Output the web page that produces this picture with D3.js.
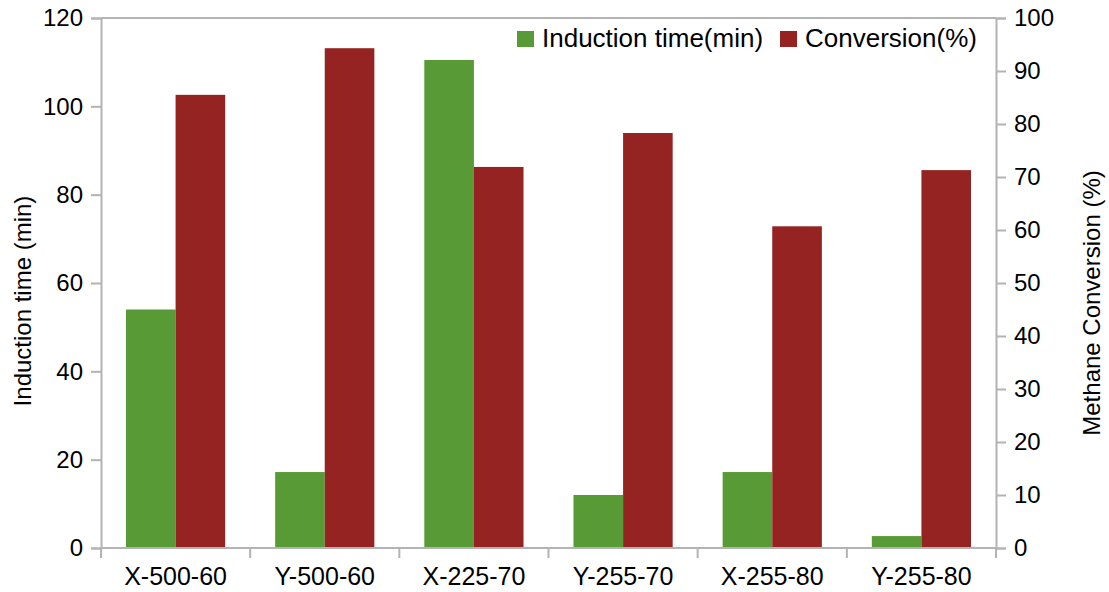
<!DOCTYPE html>
<html>
<head>
<meta charset="utf-8">
<script src="https://cdn.jsdelivr.net/npm/d3@7"></script>
<style>
  body { margin: 0; background: #fff; }
  text { font-family: "Liberation Sans", Arial, sans-serif; fill: #000; }
</style>
</head>
<body>
<svg id="chart"></svg>
<script>
// chart data
var categories = ["X-500-60", "Y-500-60", "X-225-70", "Y-255-70", "X-255-80", "Y-255-80"];
var inductionTime = [54, 17.2, 110.5, 12, 17.2, 2.7];
var conversion = [85.5, 94.3, 71.9, 78.3, 60.7, 71.3];
var leftTicks = [0, 20, 40, 60, 80, 100, 120];
var rightTicks = [0, 10, 20, 30, 40, 50, 60, 70, 80, 90, 100];
var seriesNames = ["Induction time(min)", "Conversion(%)"];

var svgWidth = 1109, svgHeight = 592;
var margin = {top: 18, right: 113, bottom: 44, left: 101};
var green = "#589a35", red = "#952322", axisGrey = "#b3b3b3";

var svg = d3.select("#chart")
  .attr("width", svgWidth)
  .attr("height", svgHeight);

var x0 = d3.scaleBand()
  .domain(categories)
  .range([margin.left, svgWidth - margin.right])
  .paddingInner(0.335)
  .paddingOuter(0.1675);

var yLeft = d3.scaleLinear()
  .domain([0, 120])
  .range([svgHeight - margin.bottom, margin.top]);

var yRight = d3.scaleLinear()
  .domain([0, 100])
  .range([svgHeight - margin.bottom, margin.top]);

var bottom = svgHeight - margin.bottom;
var barW = x0.bandwidth() / 2;

// green bars (left axis)
svg.selectAll(".greenBar")
  .data(inductionTime)
  .enter()
  .append("rect")
  .attr("class", "greenBar")
  .attr("x", function(d, i) { return x0(categories[i]); })
  .attr("y", function(d) { return yLeft(d); })
  .attr("width", barW)
  .attr("height", function(d) { return bottom - yLeft(d); })
  .attr("fill", green);

// red bars (right axis)
svg.selectAll(".redBar")
  .data(conversion)
  .enter()
  .append("rect")
  .attr("class", "redBar")
  .attr("x", function(d, i) { return x0(categories[i]) + barW; })
  .attr("y", function(d) { return yRight(d); })
  .attr("width", barW)
  .attr("height", function(d) { return bottom - yRight(d); })
  .attr("fill", red);

// top border line
svg.append("line")
  .attr("x1", margin.left).attr("x2", svgWidth - margin.right)
  .attr("y1", margin.top).attr("y2", margin.top)
  .attr("stroke", axisGrey).attr("stroke-width", 2);

// left axis
var leftAxis = svg.append("g")
  .attr("transform", "translate(" + margin.left + ",0)")
  .call(d3.axisLeft(yLeft).tickValues(leftTicks).tickSize(10).tickPadding(8));

// right axis
var rightAxis = svg.append("g")
  .attr("transform", "translate(" + (svgWidth - margin.right) + ",0)")
  .call(d3.axisRight(yRight).tickValues(rightTicks).tickSize(10).tickPadding(8));

// bottom axis with ticks between categories
var xOuter = d3.scaleLinear()
  .domain([0, categories.length])
  .range([margin.left, svgWidth - margin.right]);

var bottomAxis = svg.append("g")
  .attr("transform", "translate(0," + bottom + ")");
bottomAxis.append("line")
  .attr("x1", margin.left).attr("x2", svgWidth - margin.right)
  .attr("stroke", axisGrey).attr("stroke-width", 2);
bottomAxis.selectAll(".sep")
  .data(d3.range(categories.length + 1))
  .enter()
  .append("line")
  .attr("x1", function(d) { return xOuter(d); })
  .attr("x2", function(d) { return xOuter(d); })
  .attr("y1", 0).attr("y2", 10)
  .attr("stroke", axisGrey).attr("stroke-width", 2);
bottomAxis.selectAll(".catLabel")
  .data(categories)
  .enter()
  .append("text")
  .attr("x", function(d, i) { return (xOuter(i) + xOuter(i + 1)) / 2; })
  .attr("y", 37)
  .attr("text-anchor", "middle")
  .style("font-size", "25px")
  .text(function(d) { return d; });

[leftAxis, rightAxis].forEach(function(ax) {
  ax.select(".domain").attr("stroke", axisGrey).attr("stroke-width", 2);
  ax.selectAll(".tick line").attr("stroke", axisGrey).attr("stroke-width", 2);
  ax.selectAll(".tick text")
    .style("font-size", "24px")
    .style("font-family", "'Liberation Sans', Arial, sans-serif")
    .attr("fill", "#000");
});

// axis titles
svg.append("text")
  .attr("transform", "translate(31," + ((margin.top + bottom) / 2 + 18) + ") rotate(-90)")
  .attr("text-anchor", "middle")
  .style("font-size", "24px")
  .text("Induction time (min)");

svg.append("text")
  .attr("transform", "translate(1100," + ((margin.top + bottom) / 2 + 20) + ") rotate(-90)")
  .attr("text-anchor", "middle")
  .style("font-size", "24px")
  .text("Methane Conversion (%)");

// legend
var legend = svg.append("g").attr("transform", "translate(517,31)");
var legendX = [0, 263];
var legendColors = [green, red];
seriesNames.forEach(function(name, i) {
  legend.append("rect")
    .attr("x", legendX[i]).attr("y", 0)
    .attr("width", 17).attr("height", 16)
    .attr("fill", legendColors[i]);
  legend.append("text")
    .attr("x", legendX[i] + 25).attr("y", 16)
    .style("font-size", "26px")
    .text(name);
});
</script>
</body>
</html>
